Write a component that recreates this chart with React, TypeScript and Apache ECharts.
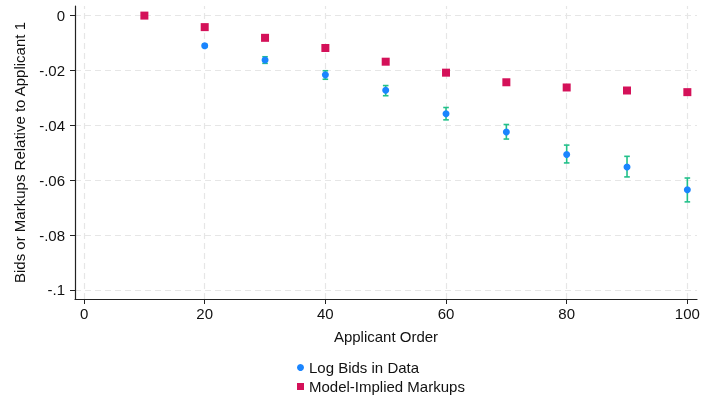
import React, { useEffect, useRef } from "react";
import * as echarts from "echarts";

const applicantOrder = [10, 20, 30, 40, 50, 60, 70, 80, 90, 100];
const markups = [0.0, -0.0042, -0.0081, -0.0118, -0.0168, -0.0208, -0.0243, -0.0262, -0.0273, -0.0279];
const bidOrder = [20, 30, 40, 50, 60, 70, 80, 90, 100];
const logBids = [-0.011, -0.0162, -0.0216, -0.0272, -0.0358, -0.0424, -0.0506, -0.0552, -0.0635];
const bidUpper = [-0.0104, -0.015, -0.0201, -0.0255, -0.0335, -0.0397, -0.0472, -0.0513, -0.0592];
const bidLower = [-0.0116, -0.0174, -0.0232, -0.0292, -0.038, -0.045, -0.0537, -0.0588, -0.0679];
const xTicks = [0, 20, 40, 60, 80, 100];
const yTicks = [0, -0.02, -0.04, -0.06, -0.08, -0.1];
const yTickLabels = ["0", "-.02", "-.04", "-.06", "-.08", "-.1"];

const FONT = "'Liberation Sans', Arial, Helvetica, sans-serif";
const BLUE = "#1a85ff";
const RED = "#d41159";
const GREEN = "#22c08a";
const GRID = "#e6e6e6";

export default function App() {
  const ref = useRef<HTMLDivElement>(null);
  useEffect(() => {
    if (!ref.current) return;
    const chart = echarts.init(ref.current, null, { renderer: "svg" });
    const errData = bidOrder.map((x, i) => [x, bidLower[i], bidUpper[i]]);
    const legendText = { fontSize: 15, color: "#111", fontFamily: FONT };
    chart.setOption({
      animation: false,
      textStyle: { fontFamily: FONT },
      grid: { left: 75, right: 6, top: 6, bottom: 101, containLabel: false },
      xAxis: {
        type: "value",
        min: -1.5,
        max: 101.6,
        name: "Applicant Order",
        nameLocation: "middle",
        nameGap: 30,
        nameTextStyle: { fontSize: 15, color: "#111", fontFamily: FONT },
        axisLine: { show: true, onZero: false, lineStyle: { color: "#222", width: 1.2 } },
        axisTick: { show: true, length: 5, customValues: xTicks, lineStyle: { color: "#222" } },
        axisLabel: {
          customValues: xTicks,
          fontSize: 15,
          color: "#111",
          margin: 7,
          fontFamily: FONT,
        },
        splitLine: { show: false },
      },
      yAxis: {
        type: "value",
        min: -0.1033,
        max: 0.0035,
        name: "Bids or Markups Relative to Applicant 1",
        nameLocation: "middle",
        nameGap: 48,
        nameTextStyle: { fontSize: 15, color: "#111", fontFamily: FONT },
        axisLine: { show: true, onZero: false, lineStyle: { color: "#222", width: 1.2 } },
        axisTick: { show: true, length: 5, customValues: yTicks, lineStyle: { color: "#222" } },
        axisLabel: {
          customValues: yTicks,
          fontSize: 15,
          color: "#111",
          margin: 10,
          fontFamily: FONT,
          formatter: (v: number) => {
            const idx = yTicks.findIndex((t) => Math.abs(t - v) < 1e-9);
            return idx >= 0 ? yTickLabels[idx] : "";
          },
        },
        splitLine: { show: false },
      },
      legend: [
        {
          left: 292,
          top: 355,
          itemWidth: 7,
          itemHeight: 7,
          itemGap: 5,
          textStyle: legendText,
          data: [{ name: "Log Bids in Data", icon: "circle" }],
        },
        {
          left: 292,
          top: 374,
          itemWidth: 7,
          itemHeight: 7,
          itemGap: 5,
          textStyle: legendText,
          data: [{ name: "Model-Implied Markups", icon: "rect" }],
        },
      ],
      series: [
        {
          type: "line",
          name: "grid",
          data: [],
          silent: true,
          z: 0,
          markLine: {
            silent: true,
            z: 0,
            symbol: "none",
            label: { show: false },
            lineStyle: { color: GRID, type: [6, 4], width: 1.2 },
            data: [
              ...xTicks.map((x) => ({ xAxis: x })),
              ...yTicks.map((y) => ({ yAxis: y })),
            ],
          },
        },
        {
          type: "custom",
          name: "CI",
          data: errData,
          z: 3,
          renderItem: (params: any, api: any) => {
            const x = api.value(0);
            const lo = api.coord([x, api.value(1)]);
            const hi = api.coord([x, api.value(2)]);
            const cap = 2.8;
            const style = { stroke: GREEN, lineWidth: 1.6 };
            return {
              type: "group",
              children: [
                { type: "line", shape: { x1: lo[0], y1: lo[1], x2: hi[0], y2: hi[1] }, style },
                { type: "line", shape: { x1: lo[0] - cap, y1: lo[1], x2: lo[0] + cap, y2: lo[1] }, style },
                { type: "line", shape: { x1: hi[0] - cap, y1: hi[1], x2: hi[0] + cap, y2: hi[1] }, style },
              ],
            };
          },
        },
        {
          type: "scatter",
          name: "Log Bids in Data",
          symbol: "circle",
          symbolSize: 7,
          z: 4,
          itemStyle: { color: BLUE, opacity: 1 },
          data: bidOrder.map((x, i) => [x, logBids[i]]),
        },
        {
          type: "scatter",
          name: "Model-Implied Markups",
          symbol: "rect",
          symbolSize: 8,
          z: 4,
          itemStyle: { color: RED, opacity: 1 },
          data: applicantOrder.map((x, i) => [x, markups[i]]),
        },
      ],
    });
    return () => chart.dispose();
  }, []);
  return (
    <div
      ref={ref}
      style={{ position: "fixed", left: 0, top: 0, width: 703, height: 400 }}
    />
  );
}
